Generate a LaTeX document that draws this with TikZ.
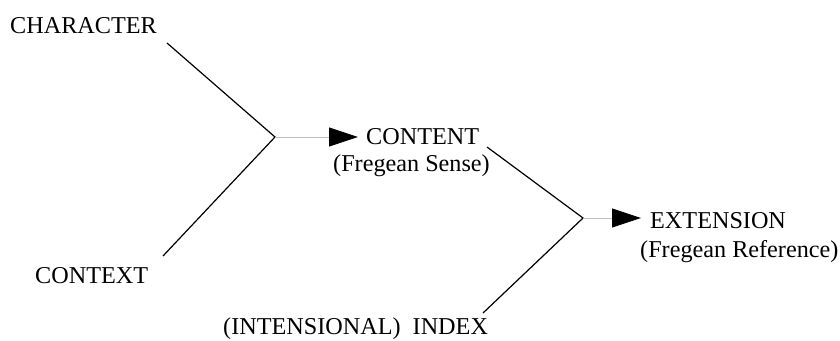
\documentclass[tikz,border=0pt]{standalone}
\usepackage{fontspec}
\setmainfont{Liberation Serif}
\usetikzlibrary{arrows.meta}
\begin{document}
\begin{tikzpicture}[x=1pt,y=-1pt,
  lbl/.style={anchor=base west,inner sep=0pt,font=\fontsize{24.2}{28}\selectfont},
  branch/.style={draw=black,line width=1.2pt},
  flow/.style={draw=black!25,line width=0.8pt,-{Triangle[length=29pt,width=19pt,color=black,fill=black]}}]
\useasboundingbox (0,0) rectangle (840,340);
% texts
\node[lbl] (character) at (10,33) {CHARACTER};
\node[lbl] (context) at (35,283) {CONTEXT};
\node[lbl] (content) at (366,144) {CONTENT};
\node[lbl] (sense) at (333,171) {(Fregean Sense)};
\node[lbl] (index) at (223,334) {(INTENSIONAL)\ \ INDEX};
\node[lbl] (extension) at (650,228) {EXTENSION};
\node[lbl] (reference) at (640,257) {(Fregean Reference)};
% junction points and free ends
\coordinate (j1) at (275,137);
\coordinate (j2) at (583,218);
\coordinate (c1) at (167,43);
\coordinate (c2) at (163,256);
\coordinate (c3) at (487,147);
\coordinate (c4) at (483,313);
\coordinate (t1) at (358,137);
\coordinate (t2) at (641,218);
% connectors
\draw[branch] (c1) -- (j1) -- (c2);
\draw[branch] (c3) -- (j2) -- (c4);
\draw[flow] (j1) -- (t1);
\draw[flow] (j2) -- (t2);
\end{tikzpicture}
\end{document}
